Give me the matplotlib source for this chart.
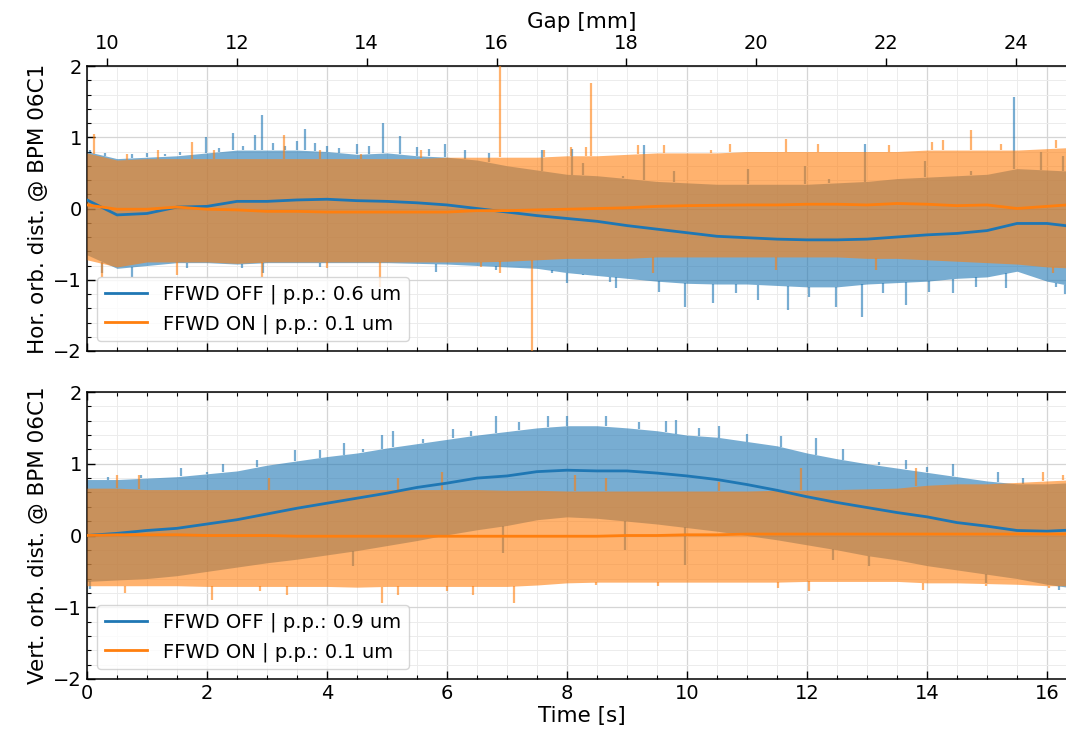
import numpy as np
import matplotlib
matplotlib.use("Agg")
import matplotlib.pyplot as plt
from matplotlib.ticker import MultipleLocator

# ---------------- data ----------------
time_s = [0.0, 0.5, 1.0, 1.5, 2.0, 2.5, 3.0, 3.5, 4.0, 4.5, 5.0, 5.5, 6.0, 6.5,
          7.0, 7.5, 8.0, 8.5, 9.0, 9.5, 10.0, 10.5, 11.0, 11.5, 12.0, 12.5,
          13.0, 13.5, 14.0, 14.5, 15.0, 15.5, 16.0, 16.5]

# ---- Horizontal plane ----
hor_off_smooth = [0.12, -0.09, -0.07, 0.02, 0.03, 0.10, 0.10, 0.12, 0.13, 0.11, 0.10, 0.08,
                  0.05, 0.00, -0.05, -0.10, -0.14, -0.18, -0.24, -0.29, -0.34, -0.39, -0.41,
                  -0.43, -0.44, -0.44, -0.43, -0.40, -0.37, -0.35, -0.31, -0.21, -0.21, -0.26]
hor_on_smooth = [0.05, -0.01, -0.01, 0.02, -0.01, -0.02, -0.04, -0.04, -0.05, -0.05, -0.05, -0.05,
                 -0.05, -0.03, -0.03, -0.02, -0.01, 0.00, 0.01, 0.03, 0.04, 0.045, 0.05, 0.05,
                 0.06, 0.06, 0.05, 0.07, 0.06, 0.04, 0.05, 0.00, 0.03, 0.06]
# extent of the noise band
hor_off_upper = [0.80, 0.70, 0.72, 0.74, 0.78, 0.82, 0.82, 0.82, 0.80, 0.76, 0.78, 0.74,
                 0.72, 0.68, 0.60, 0.54, 0.48, 0.46, 0.42, 0.38, 0.36, 0.34, 0.34, 0.34,
                 0.34, 0.36, 0.38, 0.42, 0.44, 0.46, 0.48, 0.56, 0.54, 0.52]
hor_off_lower = [-0.65, -0.84, -0.80, -0.76, -0.76, -0.78, -0.76, -0.76, -0.76, -0.76, -0.76,
                 -0.77, -0.78, -0.80, -0.82, -0.84, -0.90, -0.94, -0.98, -1.02, -1.05, -1.06,
                 -1.06, -1.08, -1.10, -1.10, -1.06, -1.04, -1.02, -0.98, -0.96, -0.88, -1.02, -1.10]
hor_on_upper = [0.78, 0.68, 0.70, 0.70, 0.70, 0.70, 0.70, 0.70, 0.70, 0.70, 0.70, 0.70,
                0.72, 0.72, 0.72, 0.72, 0.74, 0.74, 0.76, 0.78, 0.78, 0.78, 0.80, 0.80,
                0.80, 0.80, 0.80, 0.80, 0.82, 0.82, 0.82, 0.82, 0.84, 0.86]
hor_on_lower = [-0.72, -0.82, -0.75, -0.75, -0.75, -0.77, -0.75, -0.75, -0.75, -0.75, -0.75,
                -0.75, -0.75, -0.75, -0.74, -0.72, -0.70, -0.70, -0.70, -0.68, -0.68, -0.68,
                -0.68, -0.68, -0.68, -0.68, -0.70, -0.70, -0.72, -0.74, -0.76, -0.78, -0.82, -0.84]

# individual spikes sticking out of the band
hor_off_spike_t = [0.05, 0.30, 0.75, 1.00, 1.30, 1.55, 1.99, 2.20, 2.44, 2.60, 2.80, 2.92, 3.10,
                   3.30, 3.50, 3.64, 3.80, 4.00, 4.20, 4.50, 4.70, 4.94, 5.22, 5.50, 5.70, 5.97,
                   6.30, 6.70, 7.58, 8.08, 8.27, 8.93, 9.29, 9.79, 11.01, 11.96, 12.37,
                   12.96, 13.43, 13.96, 14.73, 15.45, 15.90, 16.27,
                   0.25, 0.75, 1.67, 2.58, 2.94, 3.89, 5.81, 6.81, 7.75, 8.00, 8.26, 8.71,
                   8.82, 9.54, 9.96, 10.43, 10.82, 11.18, 11.68, 12.04, 12.48, 12.92, 13.26,
                   13.65, 14.04, 14.43, 14.82, 15.32, 16.15, 16.30]
hor_off_spike_v = [0.82, 0.78, 0.76, 0.78, 0.76, 0.80, 1.01, 0.85, 1.06, 0.88, 1.03, 1.31, 0.92,
                   0.88, 0.95, 1.12, 0.92, 0.88, 0.85, 0.90, 0.88, 1.20, 1.02, 0.86, 0.84, 0.91,
                   0.82, 0.78, 0.82, 0.84, 0.64, 0.45, 0.89, 0.52, 0.56, 0.59, 0.42,
                   0.91, 0.38, 0.66, 0.52, 1.57, 0.80, 0.73,
                   -0.91, -0.96, -0.84, -0.84, -0.91, -0.82, -0.89, -0.86, -0.91, -1.05, -0.93, -1.03,
                   -1.12, -1.17, -1.38, -1.33, -1.19, -1.28, -1.42, -1.24, -1.38, -1.52, -1.19,
                   -1.35, -1.17, -1.19, -1.10, -1.12, -1.10, -1.20]
hor_on_spike_t = [0.11, 0.67, 1.19, 1.75, 2.11, 3.28, 3.89, 4.56, 5.56, 6.89, 7.61, 8.06, 8.32,
                  8.40, 9.18, 9.62, 10.40, 10.71, 11.65, 12.18, 12.65, 13.37, 14.09, 14.26,
                  14.73, 15.23, 15.87, 16.15,
                  0.25, 1.50, 2.92, 4.00, 4.89, 6.56, 6.89, 7.42, 9.43, 11.48, 13.15, 15.62, 16.10]
hor_on_spike_v = [1.05, 0.77, 0.82, 0.94, 0.82, 1.03, 0.82, 0.77, 0.82, 2.20, 0.82, 0.87, 0.87,
                  1.76, 0.89, 0.89, 0.82, 0.91, 0.98, 0.91, 0.80, 0.89, 0.94, 0.96,
                  1.10, 0.91, 0.80, 0.96,
                  -0.96, -0.93, -0.96, -0.84, -1.10, -0.82, -0.91, -2.20, -0.91, -0.86, -0.86,
                  -0.79, -0.91]

# ---- Vertical plane ----
vert_off_smooth = [0.00, 0.03, 0.07, 0.10, 0.16, 0.22, 0.30, 0.38, 0.45, 0.52, 0.59, 0.67,
                   0.73, 0.80, 0.83, 0.89, 0.91, 0.90, 0.90, 0.87, 0.83, 0.78, 0.71, 0.63,
                   0.54, 0.46, 0.39, 0.32, 0.26, 0.18, 0.13, 0.07, 0.06, 0.08]
vert_on_smooth = [0.00, 0.01, 0.01, 0.01, 0.00, 0.00, 0.00, -0.01, -0.01, -0.01, -0.01, -0.01,
                  -0.01, -0.01, -0.01, -0.01, -0.01, -0.01, 0.00, 0.00, 0.01, 0.01, 0.02, 0.02,
                  0.02, 0.02, 0.02, 0.02, 0.02, 0.02, 0.02, 0.02, 0.02, 0.02]
vert_off_upper = [0.78, 0.78, 0.80, 0.82, 0.86, 0.90, 0.98, 1.04, 1.10, 1.15, 1.22, 1.28,
                  1.34, 1.40, 1.45, 1.50, 1.53, 1.53, 1.50, 1.46, 1.40, 1.37, 1.31, 1.25,
                  1.15, 1.07, 1.00, 0.94, 0.88, 0.82, 0.76, 0.72, 0.72, 0.74]
vert_off_lower = [-0.64, -0.62, -0.60, -0.56, -0.50, -0.44, -0.38, -0.33, -0.27, -0.21, -0.14,
                  -0.07, 0.01, 0.08, 0.14, 0.22, 0.26, 0.24, 0.20, 0.16, 0.11, 0.06, 0.00,
                  -0.06, -0.13, -0.20, -0.28, -0.34, -0.42, -0.48, -0.54, -0.60, -0.68, -0.74]
vert_on_upper = [0.66, 0.66, 0.64, 0.64, 0.64, 0.64, 0.64, 0.64, 0.64, 0.64, 0.64, 0.64,
                 0.64, 0.64, 0.63, 0.63, 0.62, 0.62, 0.62, 0.62, 0.62, 0.62, 0.62, 0.63,
                 0.63, 0.64, 0.65, 0.66, 0.70, 0.72, 0.72, 0.74, 0.76, 0.78]
vert_on_lower = [-0.70, -0.70, -0.70, -0.70, -0.71, -0.71, -0.71, -0.71, -0.71, -0.72, -0.71,
                 -0.71, -0.71, -0.71, -0.71, -0.69, -0.66, -0.65, -0.65, -0.65, -0.65, -0.65,
                 -0.65, -0.65, -0.64, -0.64, -0.64, -0.64, -0.66, -0.66, -0.67, -0.68, -0.70, -0.70]

vert_off_spike_t = [0.35, 0.90, 1.56, 2.00, 2.27, 2.83, 3.20, 3.47, 3.89, 4.28, 4.60, 4.92, 5.10,
                    5.60, 6.10, 6.40, 6.81, 7.20, 7.69, 8.00, 8.65, 9.20, 9.65, 9.82, 10.20,
                    10.54, 11.00, 11.57, 12.15, 12.60, 13.20, 13.65, 14.00, 14.44, 15.18, 15.60,
                    0.05, 4.44, 6.94, 8.96, 9.96, 12.43, 13.04, 14.98, 15.65, 16.20]
vert_off_spike_v = [0.82, 0.84, 0.94, 0.88, 1.00, 1.05, 1.00, 1.19, 1.19, 1.29, 1.20, 1.40, 1.45,
                    1.35, 1.49, 1.45, 1.66, 1.58, 1.66, 1.66, 1.66, 1.58, 1.59, 1.61, 1.50,
                    1.52, 1.42, 1.38, 1.36, 1.20, 1.03, 1.05, 0.95, 1.00, 0.89, 0.80,
                    -0.75, -0.43, -0.25, -0.20, -0.41, -0.34, -0.43, -0.66, -0.62, -0.76]
vert_on_spike_t = [0.50, 0.86, 3.03, 5.19, 5.92, 8.14, 8.65, 10.54, 11.90, 13.82, 15.93, 16.26,
                   0.64, 2.08, 2.89, 3.33, 4.92, 5.19, 6.00, 6.44, 7.11, 8.48, 9.51, 11.51,
                   12.04, 13.93, 14.98, 16.04]
vert_on_spike_v = [0.85, 0.85, 0.80, 0.80, 0.89, 0.85, 0.80, 0.75, 0.94, 0.94, 0.89, 0.85,
                   -0.80, -0.90, -0.78, -0.83, -0.94, -0.83, -0.78, -0.83, -0.94, -0.69, -0.71,
                   -0.73, -0.78, -0.76, -0.70, -0.73]

gap_ticks = [10, 12, 14, 16, 18, 20, 22, 24]
gap_start_mm = 9.69      # gap at t = 0
gap_rate_mm_s = 0.9245   # gap opening speed

labels_hor = ["FFWD OFF | p.p.: 0.6 um", "FFWD ON | p.p.: 0.1 um"]
labels_vert = ["FFWD OFF | p.p.: 0.9 um", "FFWD ON | p.p.: 0.1 um"]

# ---------------- drawing ----------------
C_OFF = "tab:blue"
C_ON = "tab:orange"
ALPHA = 0.6
FS_TICK = 14
FS_LEG = 14
FS_LAB = 15.5

fig = plt.figure(figsize=(10.66, 7.34), dpi=100)
W, H = 1066.0, 734.0
x0 = 87.0
xmax = 16.5
px_per_s = 60.0
ax_w = xmax * px_per_s
ax1 = fig.add_axes([x0 / W, (H - 351) / H, ax_w / W, 285 / H])
ax2 = fig.add_axes([x0 / W, (H - 679) / H, ax_w / W, 287 / H], sharex=ax1)

t = np.array(time_s)


def draw_noise(ax, lower, upper, sp_t, sp_v, color, z):
    lower = np.array(lower)
    upper = np.array(upper)
    ax.fill_between(t, lower, upper, color=color, alpha=ALPHA, lw=0, zorder=z)
    sp_t = np.array(sp_t)
    sp_v = np.array(sp_v)
    up_i = np.interp(sp_t, t, upper)
    lo_i = np.interp(sp_t, t, lower)
    above = sp_v > up_i
    below = sp_v < lo_i
    keep = above | below
    starts = np.where(above, up_i, lo_i)
    ax.vlines(sp_t[keep], starts[keep], sp_v[keep], color=color, alpha=ALPHA,
              lw=1.6, zorder=z, capstyle="butt")


def style_axis(ax, top_ticks):
    ax.set_xlim(0, xmax)
    ax.set_ylim(-2, 2)
    ax.xaxis.set_major_locator(MultipleLocator(2))
    ax.xaxis.set_minor_locator(MultipleLocator(0.5))
    ax.yaxis.set_major_locator(MultipleLocator(1))
    ax.yaxis.set_minor_locator(MultipleLocator(0.2))
    ax.tick_params(which="both", direction="in", top=top_ticks, right=True,
                   labelsize=FS_TICK)
    ax.tick_params(which="major", length=6, width=1)
    ax.tick_params(which="minor", length=3, width=0.8)
    ax.grid(which="major", color="#d5d5d5", lw=0.9, zorder=0)
    ax.grid(which="minor", color="#ececec", lw=0.7, zorder=0)
    ax.set_axisbelow(True)
    for s in ax.spines.values():
        s.set_linewidth(1.1)


# top: horizontal
draw_noise(ax1, hor_off_lower, hor_off_upper, hor_off_spike_t, hor_off_spike_v, C_OFF, 2)
draw_noise(ax1, hor_on_lower, hor_on_upper, hor_on_spike_t, hor_on_spike_v, C_ON, 3)
ax1.plot(t, hor_off_smooth, color=C_OFF, lw=2, zorder=4, label=labels_hor[0])
ax1.plot(t, hor_on_smooth, color=C_ON, lw=2, zorder=5, label=labels_hor[1])
style_axis(ax1, top_ticks=False)
ax1.tick_params(labelbottom=False)
ax1.set_ylabel("Hor. orb. dist. @ BPM 06C1", fontsize=FS_LAB)
ax1.legend(loc="lower left", fontsize=FS_LEG, framealpha=0.8, edgecolor="#cccccc",
           handlelength=2.2)

sec = ax1.secondary_xaxis(
    "top",
    functions=(lambda x: gap_start_mm + gap_rate_mm_s * x,
               lambda g: (g - gap_start_mm) / gap_rate_mm_s))
sec.set_xticks(gap_ticks)
sec.tick_params(direction="out", length=6, width=1, labelsize=FS_TICK)
sec.set_xlabel("Gap [mm]", fontsize=FS_LAB)

# bottom: vertical
draw_noise(ax2, vert_off_lower, vert_off_upper, vert_off_spike_t, vert_off_spike_v, C_OFF, 2)
draw_noise(ax2, vert_on_lower, vert_on_upper, vert_on_spike_t, vert_on_spike_v, C_ON, 3)
ax2.plot(t, vert_off_smooth, color=C_OFF, lw=2, zorder=4, label=labels_vert[0])
ax2.plot(t, vert_on_smooth, color=C_ON, lw=2, zorder=5, label=labels_vert[1])
style_axis(ax2, top_ticks=True)
ax2.set_ylabel("Vert. orb. dist. @ BPM 06C1", fontsize=FS_LAB)
ax2.set_xlabel("Time [s]", fontsize=FS_LAB, labelpad=2)
ax2.legend(loc="lower left", fontsize=FS_LEG, framealpha=0.8, edgecolor="#cccccc",
           handlelength=2.2)

fig.savefig("out.png", dpi=100)
